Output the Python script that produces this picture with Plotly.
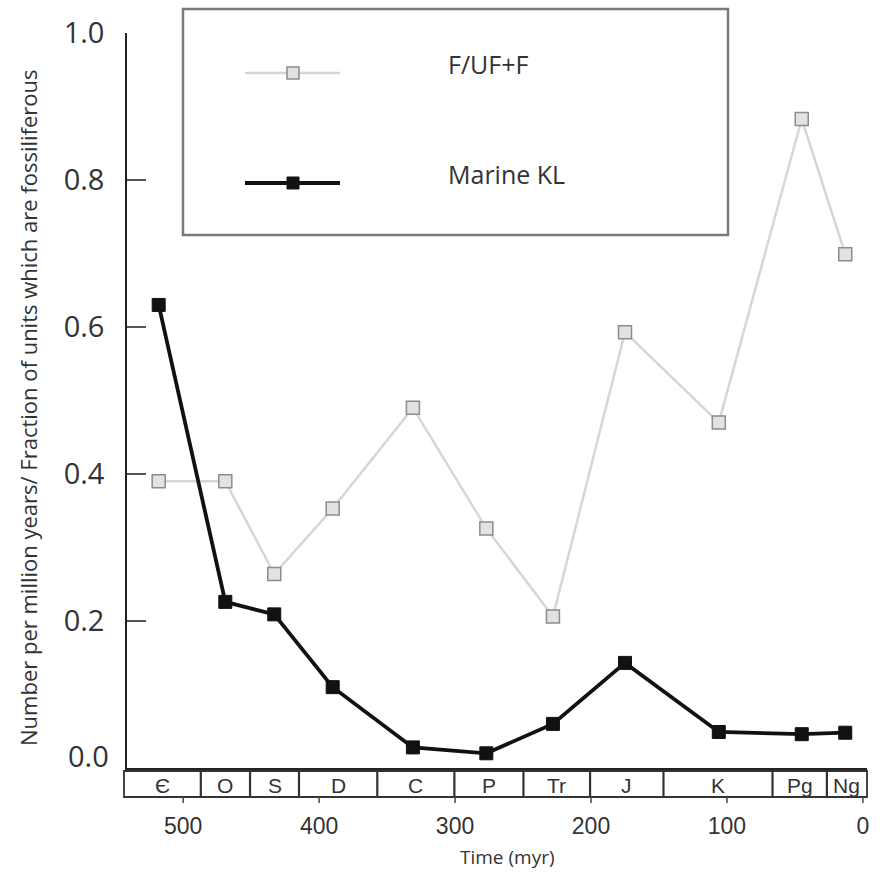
import plotly.graph_objects as go

# ---- data ----
ages = [518, 469, 433, 390, 331, 277, 228, 175, 106, 45, 13]
fuf = [0.39, 0.39, 0.264, 0.353, 0.490, 0.326, 0.206, 0.593, 0.470, 0.883, 0.699]
marine_kl = [0.630, 0.226, 0.209, 0.110, 0.028, 0.020, 0.060, 0.143, 0.049, 0.046, 0.048]

period_names = ["Є", "O", "S", "D", "C", "P", "Tr", "J", "K", "Pg", "Ng"]
period_bounds = [543.6, 487, 450.8, 414.8, 357.2, 300.5, 249.7, 200.7, 146.7, 66.5, 26.5, -2.9]

x_ticks = [500, 400, 300, 200, 100, 0]
x_ticklabels = ["500", "400", "300", "200", "100", "0"]
y_ticks = [0.2, 0.4, 0.6, 0.8, 1.0]
y_ticklabels = ["0.2", "0.4", "0.6", "0.8", "1.0"]

W, H = 880, 874
L, R, T, B = 127, 13, 33, 106
PW = W - L - R
PH = H - T - B


def px_x(p):
    return (p - L) / PW


def px_y(p):
    return (H - B - p) / PH


fig = go.Figure()
fig.add_trace(go.Scatter(
    x=ages, y=fuf, mode="lines+markers", name="F/UF+F",
    line=dict(color="#d6d6d6", width=2.5),
    marker=dict(symbol="square", size=13, color="#e2e2e2",
                line=dict(color="#8c8c8c", width=1.5)),
    showlegend=False))
fig.add_trace(go.Scatter(
    x=ages, y=marine_kl, mode="lines+markers", name="Marine KL",
    line=dict(color="#111111", width=3.8),
    marker=dict(symbol="square", size=13, color="#111111",
                line=dict(color="#111111", width=1)),
    showlegend=False))

shapes = []
annotations = []

# period bar
bar_top = px_y(771)
bar_bot = px_y(797)
shapes.append(dict(type="rect", xref="paper", yref="paper",
                   x0=px_x(124), x1=px_x(867), y0=bar_bot, y1=bar_top,
                   line=dict(color="#333333", width=1.8), fillcolor="rgba(0,0,0,0)"))
for b in period_bounds[1:-1]:
    shapes.append(dict(type="line", xref="x", yref="paper", x0=b, x1=b,
                       y0=bar_bot, y1=bar_top, line=dict(color="#333333", width=2.2)))
for i, nm in enumerate(period_names):
    mid = (period_bounds[i] + period_bounds[i + 1]) / 2
    annotations.append(dict(x=mid, y=px_y(785), xref="x", yref="paper", text=nm,
                            showarrow=False, xanchor="center", yanchor="middle",
                            font=dict(family="Liberation Sans, Arial", size=21, color="#333333")))
# ticks under the bar
for t in x_ticks:
    shapes.append(dict(type="line", xref="x", yref="paper", x0=t, x1=t,
                       y0=bar_bot, y1=px_y(803), line=dict(color="#444444", width=1.5)))

# legend box (manual)
shapes.append(dict(type="rect", xref="paper", yref="paper",
                   x0=px_x(183), x1=px_x(728), y0=px_y(235), y1=px_y(9),
                   line=dict(color="#7a7a7a", width=2.5), fillcolor="white"))
shapes.append(dict(type="line", xref="paper", yref="paper",
                   x0=px_x(245), x1=px_x(340), y0=px_y(73), y1=px_y(73),
                   line=dict(color="#d6d6d6", width=2.5)))
shapes.append(dict(type="rect", xref="paper", yref="paper",
                   x0=px_x(287), x1=px_x(299), y0=px_y(79), y1=px_y(67),
                   line=dict(color="#8c8c8c", width=1.5), fillcolor="#e2e2e2"))
shapes.append(dict(type="line", xref="paper", yref="paper",
                   x0=px_x(245), x1=px_x(340), y0=px_y(183), y1=px_y(183),
                   line=dict(color="#111111", width=3.8)))
shapes.append(dict(type="rect", xref="paper", yref="paper",
                   x0=px_x(287), x1=px_x(299), y0=px_y(189), y1=px_y(177),
                   line=dict(color="#111111", width=1), fillcolor="#111111"))
annotations.append(dict(x=px_x(446), y=px_y(64), xref="paper", yref="paper", text="F/UF+F",
                        showarrow=False, xanchor="left", yanchor="middle",
                        font=dict(family="Open Sans", size=25, color="#333333")))
annotations.append(dict(x=px_x(446), y=px_y(174), xref="paper", yref="paper", text="Marine KL",
                        showarrow=False, xanchor="left", yanchor="middle",
                        font=dict(family="Open Sans", size=25, color="#333333")))

# 0.0 label (sits above the axis line)
annotations.append(dict(x=px_x(111), y=px_y(755), xref="paper", yref="paper", text="0.0",
                        showarrow=False, xanchor="right", yanchor="middle",
                        font=dict(family="Open Sans", size=29, color="#333333")))
# axis titles
annotations.append(dict(x=px_x(508), y=px_y(857), xref="paper", yref="paper", text="Time (myr)",
                        showarrow=False, xanchor="center", yanchor="middle",
                        font=dict(family="Open Sans", size=19, color="#333333")))
annotations.append(dict(x=px_x(28), y=px_y(408), xref="paper", yref="paper",
                        text="Number per million years/ Fraction of units which are fossiliferous",
                        showarrow=False, textangle=-90, xanchor="center", yanchor="middle",
                        font=dict(family="Open Sans", size=22, color="#333333")))

fig.update_layout(
    width=W, height=H,
    margin=dict(l=L, r=R, t=T, b=B),
    paper_bgcolor="white", plot_bgcolor="white",
    shapes=shapes, annotations=annotations,
    xaxis=dict(range=[541.3, -3.0], showgrid=False, zeroline=False,
               showline=True, linecolor="#222222", linewidth=1.5,
               ticks="", tickvals=x_ticks, ticktext=x_ticklabels,
               ticklabelstandoff=37,
               tickfont=dict(family="Liberation Sans, Arial", size=23, color="#333333")),
    yaxis=dict(range=[0, 1.0], showgrid=False, zeroline=False,
               showline=True, linecolor="#222222", linewidth=1.5,
               ticks="inside", ticklen=19, tickwidth=1.5, tickcolor="#555555",
               tickvals=y_ticks, ticktext=y_ticklabels, ticklabelstandoff=15,
               tickfont=dict(family="Open Sans", size=29, color="#333333")),
)

fig.write_html("out.html")
